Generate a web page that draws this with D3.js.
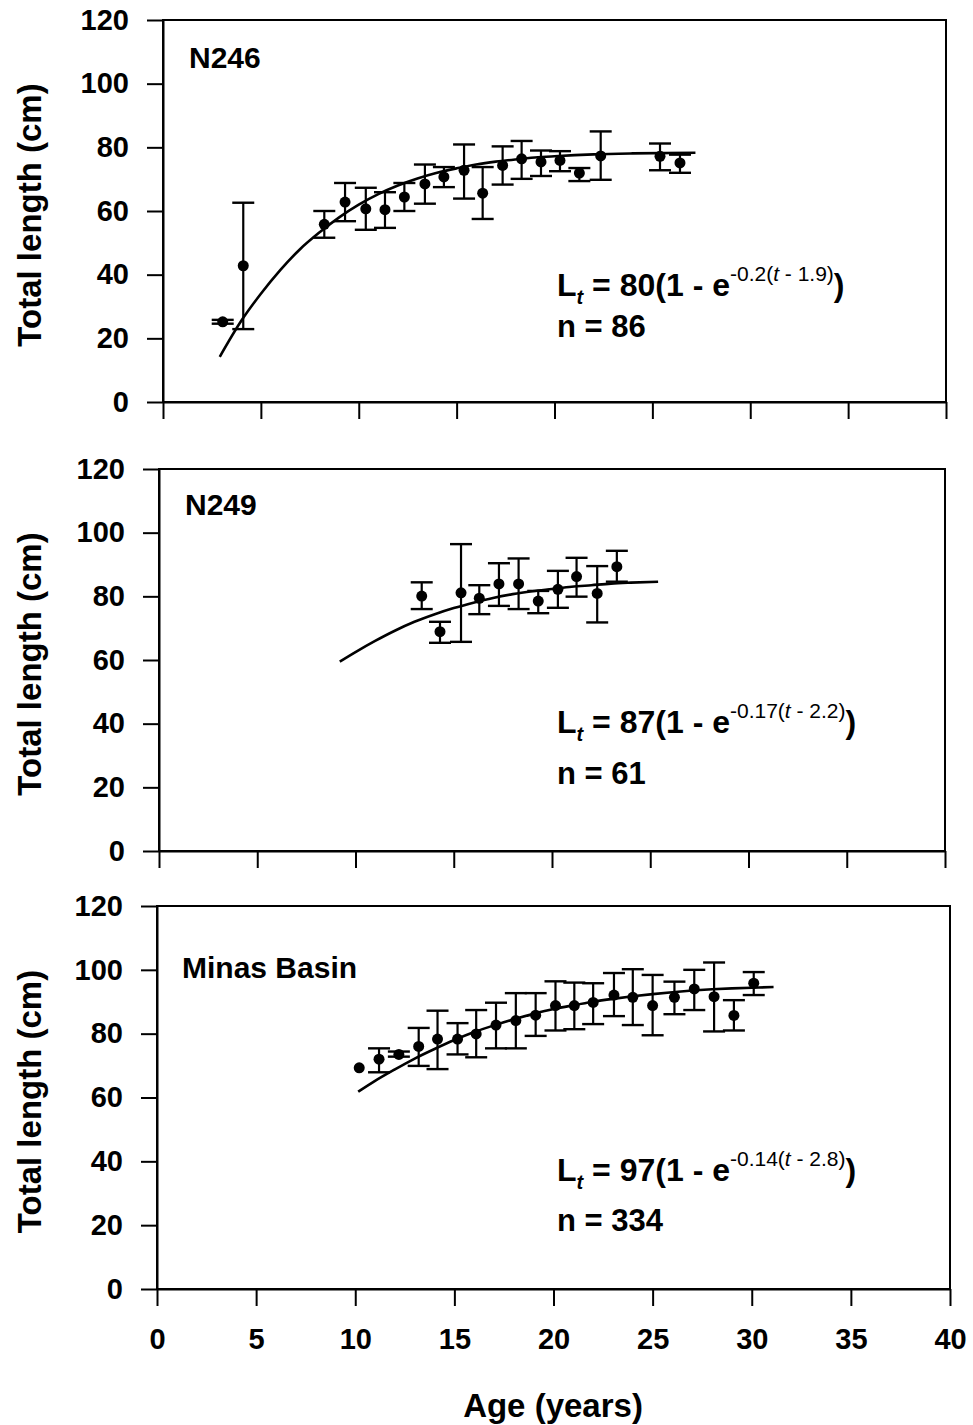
<!DOCTYPE html>
<html><head><meta charset="utf-8">
<script src="https://cdn.jsdelivr.net/npm/d3@7"></script>
<style>
body{margin:0;background:#fff}
text{font-family:"Liberation Sans",Arial,sans-serif;font-weight:bold;fill:#000}
</style>
</head><body><svg id="c" width="973" height="1425"></svg>
<script>
// ---------- data ----------
const xTicks = [0,5,10,15,20,25,30,35,40];
const yTicks = [0,20,40,60,80,100,120];
const panelNames = ["N246","N249","Minas Basin"];
const nLabels = ["n = 86","n = 61","n = 334"];
const eqLinf = ["80","87","97"];
const eqK = ["-0.2","-0.17","-0.14"];
const eqT0 = ["1.9","2.2","2.8"];
const yTitle = "Total length (cm)";
const xTitle = "Age (years)";

// Panel 1 (N246)
const age1  = [3.05,4.1,8.24,9.3,10.36,11.34,12.33,13.38,14.35,15.38,16.33,17.35,18.32,19.31,20.28,21.27,22.36,25.39,26.41];
const mean1 = [25.2,42.8,55.8,62.8,60.7,60.4,64.4,68.5,70.7,72.8,65.6,74.3,76.4,75.4,75.9,71.9,77.3,77.2,75.1];
const lo1   = [24.6,22.9,51.6,56.8,54.1,54.7,60.0,62.3,67.5,63.9,57.5,68.3,70.1,71.0,72.5,69.4,69.8,72.8,72.0];
const hi1   = [25.8,62.6,60.0,68.8,67.3,65.9,68.8,74.6,73.8,80.9,73.8,80.3,82.0,79.0,78.8,73.5,85.0,81.2,77.7];
const curveT1 = [2.9,4,5,6,7,8,9,10,11,12,13,14,15,16,17,18,19,20,22,24,27.2];
const curveL1 = [14.2,25.5,34,41.5,48,53.3,58,62,65.3,68,70.2,72,73.4,74.6,75.5,76.2,76.8,77.2,77.8,78.1,78.3];

// Panel 2 (N249)
const age2  = [13.37,14.3,15.37,16.3,17.3,18.3,19.3,20.3,21.25,22.3,23.3];
const mean2 = [80.1,68.9,81.1,79.4,83.9,83.9,78.5,82.2,86.2,80.9,89.3];
const lo2   = [76.0,65.4,65.7,74.4,77.0,76.0,74.7,76.4,79.9,71.8,84.6];
const hi2   = [84.4,72.0,96.4,83.5,90.4,91.9,81.7,88.0,92.1,89.5,94.3];
const curveT2 = [9.2,10,11,12,13,14,15,16,17,18,19,20,21,22,23,24,25.4];
const curveL2 = [59.5,62.5,66,69.2,72,74.3,76.3,78,79.5,80.7,81.6,82.3,83,83.5,84,84.3,84.6];

// Panel 3 (Minas Basin)
const age3  = [10.2,11.2,12.2,13.2,14.15,15.16,16.1,17.1,18.1,19.1,20.1,21.05,22.0,23.05,24.0,25.0,26.1,27.1,28.1,29.1,30.1];
const mean3 = [69.3,72.0,73.5,76.0,78.3,78.3,79.9,82.7,84.1,85.8,88.8,88.8,89.8,92.1,91.4,88.8,91.4,94.0,91.6,85.7,95.8];
const lo3   = [null,67.9,72.8,69.9,68.9,73.5,72.6,75.4,75.4,79.3,81.0,81.4,83.0,85.5,82.7,79.5,86.1,87.4,80.7,81.0,92.1];
const hi3   = [null,75.4,74.4,81.8,87.2,83.3,87.4,89.7,92.7,92.7,96.4,96.0,95.8,99.0,100.2,98.4,96.3,100.0,102.3,90.5,99.3];
const curveT3 = [10.15,11,12,13,14,15,16,17,18,19,20,21,22,23,24,25,26,27,28,29,30,31.1];
const curveL3 = [61.8,65.2,68.8,72.2,75.2,78,80.5,82.6,84.5,86.2,87.7,88.9,90,90.9,91.7,92.4,93,93.5,93.9,94.2,94.4,94.6];

// ---------- layout ----------
const panels = [
  {left:163,right:946,top:20,bottom:402, titleY:68, eqY:296, nY:337,
   age:age1,mean:mean1,lo:lo1,hi:hi1,ct:curveT1,cl:curveL1},
  {left:159,right:945,top:469,bottom:851, titleY:515, eqY:733, nY:784,
   age:age2,mean:mean2,lo:lo2,hi:hi2,ct:curveT2,cl:curveL2},
  {left:157,right:950,top:906,bottom:1289, titleY:978, eqY:1181, nY:1231,
   age:age3,mean:mean3,lo:lo3,hi:hi3,ct:curveT3,cl:curveL3}
];
const titleX = [189,185,182];
const eqX = 557;
const FONT = "Liberation Sans, Arial, sans-serif";

const svg = d3.select("#c");

panels.forEach((p,i)=>{
  const x = d3.scaleLinear().domain([0,40]).range([p.left,p.right]);
  const y = d3.scaleLinear().domain([0,120]).range([p.bottom,p.top]);
  const g = svg.append("g");

  // box
  g.append("rect").attr("x",p.left).attr("y",p.top)
    .attr("width",p.right-p.left).attr("height",p.bottom-p.top)
    .attr("fill","none").attr("stroke","#000").attr("stroke-width",2);

  // y axis
  const ya = g.append("g").attr("transform",`translate(${p.left},0)`)
    .call(d3.axisLeft(y).tickValues(yTicks).tickSize(16).tickSizeOuter(0).tickPadding(18));
  ya.select(".domain").attr("stroke","#000").attr("stroke-width",2);
  ya.selectAll(".tick line").attr("stroke","#000").attr("stroke-width",2);
  ya.selectAll(".tick text").attr("font-size",29).attr("font-family",FONT).attr("font-weight","bold");

  // x axis
  const xa = g.append("g").attr("transform",`translate(0,${p.bottom})`)
    .call(d3.axisBottom(x).tickValues(xTicks).tickSize(17).tickSizeOuter(0).tickPadding(22)
      .tickFormat(i===2 ? d3.format("d") : ()=>""));
  xa.select(".domain").attr("stroke","#000").attr("stroke-width",2);
  xa.selectAll(".tick line").attr("stroke","#000").attr("stroke-width",2);
  xa.selectAll(".tick text").attr("font-size",29).attr("font-family",FONT).attr("font-weight","bold");

  // y title
  g.append("text").attr("transform",`translate(41,${(p.top+p.bottom)/2 + 4}) rotate(-90)`)
    .attr("text-anchor","middle").attr("font-size",33).text(yTitle);

  // panel title
  g.append("text").attr("x",titleX[i]).attr("y",p.titleY).attr("font-size",30).text(panelNames[i]);

  // fitted curve
  const pts = p.ct.map((t,j)=>[t,p.cl[j]]);
  g.append("path").datum(pts)
    .attr("d",d3.line().x(d=>x(d[0])).y(d=>y(d[1])).curve(d3.curveMonotoneX))
    .attr("fill","none").attr("stroke","#000").attr("stroke-width",2.6);

  // error bars
  p.age.forEach((a,j)=>{
    if(p.lo[j]==null) return;
    const cx = x(a);
    g.append("line").attr("x1",cx).attr("x2",cx).attr("y1",y(p.lo[j])).attr("y2",y(p.hi[j]))
      .attr("stroke","#000").attr("stroke-width",2.2);
    [p.lo[j],p.hi[j]].forEach(v=>{
      g.append("line").attr("x1",cx-11).attr("x2",cx+11).attr("y1",y(v)).attr("y2",y(v))
        .attr("stroke","#000").attr("stroke-width",2.4);
    });
  });
  // points
  g.selectAll("circle.pt").data(p.age).enter().append("circle")
    .attr("cx",d=>x(d)).attr("cy",(d,j)=>y(p.mean[j])).attr("r",5.5).attr("fill","#000");

  // equation
  const eq = g.append("text").attr("x",eqX).attr("y",p.eqY).attr("font-size",32);
  eq.append("tspan").text("L");
  eq.append("tspan").attr("font-size",20).attr("font-style","italic").attr("dy",8).text("t");
  eq.append("tspan").attr("dy",-8).text(` = ${eqLinf[i]}(1 - e`);
  eq.append("tspan").attr("font-size",21).attr("dy",-15).attr("font-weight","normal").text(`${eqK[i]}(`);
  eq.append("tspan").attr("font-size",21).attr("font-style","italic").attr("font-weight","normal").text("t");
  eq.append("tspan").attr("font-size",21).attr("font-weight","normal").text(` - ${eqT0[i]})`);
  eq.append("tspan").attr("dy",15).text(")");
  g.append("text").attr("x",eqX).attr("y",p.nY).attr("font-size",31).text(nLabels[i]);
});

// x title
svg.append("text").attr("x",553).attr("y",1417).attr("text-anchor","middle")
  .attr("font-size",33).text(xTitle);
</script>
</body></html>
